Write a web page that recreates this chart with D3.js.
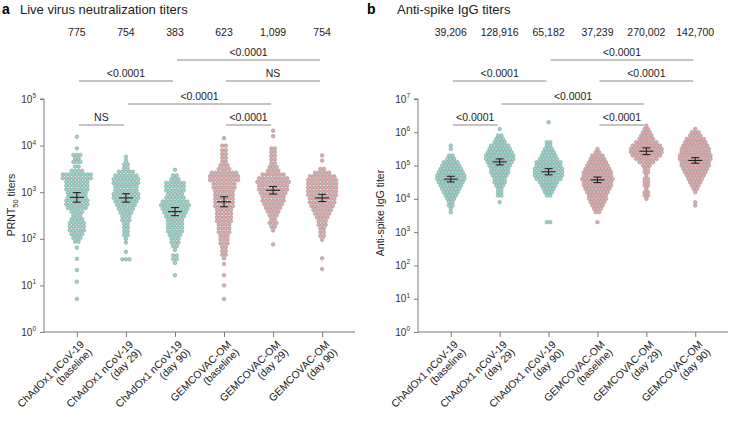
<!DOCTYPE html>
<html><head><meta charset="utf-8">
<script src="https://cdn.jsdelivr.net/npm/d3@7"></script>
<style>
body{margin:0;background:#fff;}
svg{font-family:"Liberation Sans",Arial,Helvetica,sans-serif;}
</style></head>
<body><svg id="c" width="729" height="423"></svg>
<script>
// ---------------- DATA ----------------
const catLine1 = ["ChAdOx1 nCoV-19","ChAdOx1 nCoV-19","ChAdOx1 nCoV-19","GEMCOVAC-OM","GEMCOVAC-OM","GEMCOVAC-OM"];
const catLine2 = ["(baseline)","(day 29)","(day 90)","(baseline)","(day 29)","(day 90)"];

// geometric means printed above each group
const neutGM = [775, 754, 383, 623, 1099, 754];
const iggGM  = [39206, 128916, 65182, 37239, 270002, 142700];

// read-off distributions: [log10 titer, number of participants at that level]
const neutChAdBase = [[4.19,1],[3.94,1],[3.80,3],[3.72,2],[3.65,3],[3.55,2],[3.46,4],[3.38,9],[3.30,9],[3.22,7],[3.14,7],[3.06,7],[2.98,6],[2.90,6],[2.82,7],[2.74,7],[2.66,6],[2.58,4],[2.50,3],[2.42,4],[2.34,5],[2.26,5],[2.18,5],[2.10,4],[2.02,3],[1.94,2],[1.81,1],[1.57,1],[1.33,1],[1.08,1],[0.71,1]];
const neutChAdD29  = [[3.76,1],[3.68,1],[3.60,2],[3.52,2],[3.44,5],[3.36,7],[3.28,8],[3.20,8],[3.12,7],[3.04,7],[2.96,8],[2.88,8],[2.80,7],[2.72,6],[2.64,5],[2.56,4],[2.48,3],[2.40,3],[2.32,2],[2.24,2],[2.16,2],[2.08,2],[2.00,1],[1.92,1],[1.72,1],[1.56,3]];
const neutChAdD90  = [[3.48,1],[3.36,2],[3.28,3],[3.20,6],[3.12,6],[3.04,6],[2.96,5],[2.88,6],[2.80,8],[2.72,9],[2.64,8],[2.56,7],[2.48,6],[2.40,5],[2.32,5],[2.24,5],[2.16,5],[2.08,4],[2.00,3],[1.92,3],[1.84,2],[1.76,1],[1.64,2],[1.56,2],[1.48,1],[1.22,1]];
const neutGemBase  = [[4.16,1],[4.00,2],[3.90,2],[3.82,2],[3.74,2],[3.66,2],[3.58,3],[3.50,4],[3.42,8],[3.34,9],[3.26,9],[3.18,7],[3.10,7],[3.02,6],[2.94,6],[2.86,6],[2.78,6],[2.70,6],[2.62,5],[2.54,5],[2.46,5],[2.38,5],[2.30,4],[2.22,4],[2.14,4],[2.06,3],[1.98,3],[1.90,3],[1.82,2],[1.74,2],[1.66,2],[1.58,1],[1.46,1],[1.22,1],[1.00,1],[0.71,1]];
const neutGemD29   = [[4.32,1],[4.20,1],[3.94,2],[3.86,2],[3.78,2],[3.70,2],[3.62,2],[3.54,3],[3.46,4],[3.38,7],[3.30,9],[3.22,10],[3.14,9],[3.06,9],[2.98,8],[2.90,7],[2.82,7],[2.74,6],[2.66,5],[2.58,4],[2.50,3],[2.42,2],[2.34,3],[2.26,2],[2.18,1],[1.88,1]];
const neutGemD90   = [[3.79,1],[3.68,1],[3.50,2],[3.42,5],[3.34,8],[3.26,9],[3.18,9],[3.10,9],[3.02,9],[2.94,9],[2.86,8],[2.78,8],[2.70,7],[2.62,6],[2.54,5],[2.46,4],[2.38,3],[2.30,3],[2.22,2],[2.14,2],[2.06,2],[1.98,1],[1.58,1],[1.35,1]];

const iggChAdBase = [[5.6,1],[5.5,1],[5.3,2],[5.2,3],[5.1,5],[5.0,6],[4.9,7],[4.8,8],[4.7,9],[4.6,9],[4.5,8],[4.4,7],[4.3,6],[4.2,5],[4.1,4],[4.0,3],[3.9,2],[3.8,2],[3.7,1],[3.6,1]];
const iggChAdD29  = [[6.1,1],[5.9,2],[5.8,3],[5.7,4],[5.6,6],[5.5,7],[5.4,8],[5.3,9],[5.2,9],[5.1,8],[5.0,7],[4.9,6],[4.8,6],[4.7,5],[4.6,4],[4.5,4],[4.4,3],[4.3,2],[4.2,2],[4.1,2],[3.9,1]];
const iggChAdD90  = [[6.3,1],[5.7,2],[5.6,2],[5.5,3],[5.4,4],[5.3,5],[5.2,6],[5.1,8],[5.0,8],[4.9,9],[4.8,9],[4.7,9],[4.6,8],[4.5,6],[4.4,5],[4.3,4],[4.2,3],[4.1,2],[3.3,2]];
const iggGemBase  = [[5.5,1],[5.4,2],[5.3,4],[5.2,5],[5.1,6],[5.0,7],[4.9,8],[4.8,9],[4.7,9],[4.6,10],[4.5,9],[4.4,9],[4.3,8],[4.2,7],[4.1,6],[4.0,6],[3.9,5],[3.8,4],[3.7,3],[3.6,2],[3.3,1]];
const iggGemD29   = [[6.2,1],[6.1,2],[6.0,3],[5.9,4],[5.8,5],[5.7,7],[5.6,9],[5.5,10],[5.4,10],[5.3,9],[5.2,7],[5.1,5],[5.0,3],[4.9,2],[4.8,2],[4.7,1],[4.6,2],[4.5,2],[4.4,2],[4.3,1],[4.2,2],[4.1,2],[4.0,1]];
const iggGemD90   = [[6.1,1],[6.0,3],[5.9,4],[5.8,6],[5.7,7],[5.6,8],[5.5,9],[5.4,9],[5.3,10],[5.2,10],[5.1,9],[5.0,9],[4.9,8],[4.8,7],[4.7,6],[4.6,5],[4.5,4],[4.4,3],[4.3,2],[4.2,1],[3.9,1],[3.8,1]];

const neutGroups = [neutChAdBase, neutChAdD29, neutChAdD90, neutGemBase, neutGemD29, neutGemD90];
const iggGroups  = [iggChAdBase, iggChAdD29, iggChAdD90, iggGemBase, iggGemD29, iggGemD90];

// comparisons: group indices, stacking tier, P label
const neutComparisons = [
  {a:2,b:5,tier:0,p:"<0.0001"},
  {a:0,b:2,tier:1,p:"<0.0001"},
  {a:3,b:5,tier:1,p:"NS"},
  {a:1,b:4,tier:2,p:"<0.0001"},
  {a:0,b:1,tier:3,p:"NS"},
  {a:3,b:4,tier:3,p:"<0.0001"}
];
const iggComparisons = [
  {a:2,b:5,tier:0,p:"<0.0001"},
  {a:0,b:2,tier:1,p:"<0.0001"},
  {a:3,b:5,tier:1,p:"<0.0001"},
  {a:1,b:4,tier:2,p:"<0.0001"},
  {a:0,b:1,tier:3,p:"<0.0001"},
  {a:3,b:4,tier:3,p:"<0.0001"}
];
const neutExponents = [0,1,2,3,4,5];
const iggExponents  = [0,1,2,3,4,5,6,7];

// ---------------- DRAW ----------------
const svg = d3.select("#c");
const cyan = "#8adfd2", pink = "#eea6a6", dotStroke = "#9b9b9b", axisCol = "#7a7a7a";
const tierY = [60, 81, 104, 125];

function panel(opt){
  const g = svg.append("g");
  const x = d3.scalePoint().domain(d3.range(6)).range([opt.x0, opt.x1]).padding(0.67);
  const y = d3.scaleLog().domain([1, Math.pow(10, opt.maxExp)]).range([332, 99]);

  // titles
  g.append("text").attr("x", opt.letterX).attr("y", 14).attr("font-size", 14).attr("font-weight", "bold").text(opt.letter);
  g.append("text").attr("x", opt.titleX).attr("y", 14).attr("font-size", 13).attr("fill", "#222").text(opt.title);

  // GM numbers
  g.selectAll(".gm").data(opt.gm).enter().append("text")
    .attr("x", (d,i)=>x(i)).attr("y", 36).attr("text-anchor","middle").attr("font-size", 10.5).attr("fill","#222")
    .text(d=>d3.format(",")(d));

  // y axis
  const yAxis = d3.axisLeft(y).tickValues(opt.exps.map(e=>Math.pow(10,e))).tickSize(4).tickFormat("");
  const ya = g.append("g").attr("transform", `translate(${opt.x0},0)`).call(yAxis);
  ya.selectAll("path,line").attr("stroke", axisCol);
  ya.select(".domain").attr("d", `M-4,${y(Math.pow(10,opt.maxExp))}H0V332`);
  const yl = g.selectAll(".yl").data(opt.exps).enter().append("text")
    .attr("x", opt.x0 - 8).attr("y", e=>y(Math.pow(10,e)) + 3.5).attr("text-anchor","end").attr("font-size", 10).attr("fill","#333");
  yl.append("tspan").text("10");
  yl.append("tspan").attr("dy", -4.5).attr("font-size", 6.5).text(e=>e);

  // x axis
  const xAxis = d3.axisBottom(x).tickSize(5).tickFormat("");
  const xa = g.append("g").attr("transform", "translate(0,332)").call(xAxis);
  xa.selectAll("path,line").attr("stroke", axisCol);
  xa.select(".domain").attr("d", `M${opt.x0},0H${opt.x1}`);

  // x labels
  const xl = g.selectAll(".xl").data(d3.range(6)).enter().append("text")
    .attr("transform", i=>`translate(${x(i)+8},${345}) rotate(-45)`)
    .attr("text-anchor","end").attr("font-size", 10.5).attr("fill","#222");
  xl.append("tspan").attr("x",0).attr("dy",0).text(i=>catLine1[i]);
  xl.append("tspan").attr("x",0).attr("dy","1.05em").text(i=>catLine2[i]);

  // y axis title
  const yt = g.append("text").attr("transform", `translate(${opt.ylabX},${opt.ylabY}) rotate(-90)`)
    .attr("text-anchor","middle").attr("font-size", 10.5).attr("fill","#222");
  opt.ylab(yt);

  // dots
  const step = opt.step;
  opt.groups.forEach((bins, gi)=>{
    const pts = [];
    bins.forEach(([l,c])=>{ for(let k=0;k<c;k++) pts.push({l, off:(k-(c-1)/2)*step}); });
    g.append("g").selectAll("circle").data(pts).enter().append("circle")
      .attr("cx", d=>x(gi)+d.off).attr("cy", d=>y(Math.pow(10,d.l))).attr("r", 1.75)
      .attr("fill", gi<3?cyan:pink).attr("stroke", dotStroke).attr("stroke-width", 0.7);
    // GM with 95% CI
    const ls = pts.map(d=>d.l);
    const se = d3.deviation(ls)/Math.sqrt(ls.length);
    const m = Math.log10(opt.gm[gi]);
    const lo = Math.pow(10, m-1.96*se), hi = Math.pow(10, m+1.96*se), mid = opt.gm[gi];
    const cx = x(gi);
    const mk = g.append("g").attr("stroke","#222").attr("stroke-width",1.1);
    mk.append("line").attr("x1",cx-7).attr("x2",cx+7).attr("y1",y(mid)).attr("y2",y(mid));
    mk.append("line").attr("x1",cx).attr("x2",cx).attr("y1",y(lo)).attr("y2",y(hi));
    mk.append("line").attr("x1",cx-4).attr("x2",cx+4).attr("y1",y(lo)).attr("y2",y(lo));
    mk.append("line").attr("x1",cx-4).attr("x2",cx+4).attr("y1",y(hi)).attr("y2",y(hi));
  });

  // comparison brackets
  opt.comps.forEach(c=>{
    const yy = tierY[c.tier];
    g.append("line").attr("x1", x(c.a)+2).attr("x2", x(c.b)-2).attr("y1", yy).attr("y2", yy)
      .attr("stroke", "#888").attr("stroke-width", 1);
    g.append("text").attr("x", (x(c.a)+x(c.b))/2).attr("y", yy-4).attr("text-anchor","middle")
      .attr("font-size", 10.5).attr("fill","#222").text(c.p);
  });
}

panel({x0:44, x1:355, maxExp:5, exps:neutExponents, gm:neutGM, groups:neutGroups, comps:neutComparisons, step:3.5,
  letter:"a", letterX:2, title:"Live virus neutralization titers", titleX:20, ylabX:15, ylabY:205,
  ylab: t=>{ t.append("tspan").text("PRNT"); t.append("tspan").attr("dy",3).attr("font-size",7.5).text("50"); t.append("tspan").attr("dy",-3).text(" titers"); }});
panel({x0:418, x1:728, maxExp:7, exps:iggExponents, gm:iggGM, groups:iggGroups, comps:iggComparisons, step:3.4,
  letter:"b", letterX:367, title:"Anti-spike IgG titers", titleX:397, ylabX:384, ylabY:213,
  ylab: t=>{ t.text("Anti-spike IgG titer"); }});
</script></body></html>
